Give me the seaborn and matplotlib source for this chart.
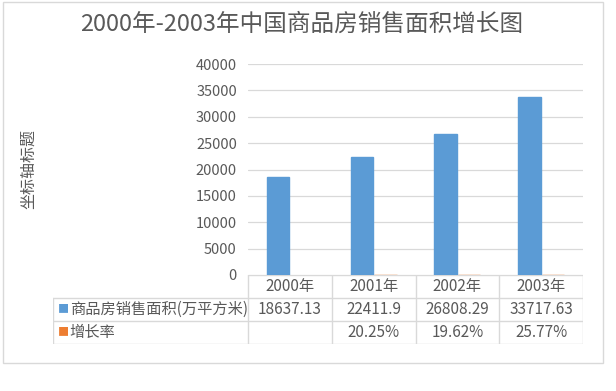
import pandas as pd
import numpy as np
import matplotlib
matplotlib.use("Agg")
import matplotlib.pyplot as plt
from matplotlib.patches import Rectangle
import seaborn as sns

# Data
years = ['2000年', '2001年', '2002年', '2003年']
area = [18637.13, 22411.9, 26808.29, 33717.63]
growth = [np.nan, 0.2025, 0.1962, 0.2577]
series_names = ['商品房销售面积(万平方米)', '增长率']
colors = ['#5B9BD5', '#ED7D31']

area_labels = [str(v) for v in area]
growth_labels = ['' if np.isnan(g) else f"{g:.2%}" for g in growth]

df = pd.DataFrame({
    'year': years * 2,
    'value': area + growth,
    'series': [series_names[0]] * 4 + [series_names[1]] * 4,
})

sns.set_style('white')
plt.rcParams['font.family'] = ['Noto Sans CJK SC', 'DejaVu Sans']
text_col = '#595959'
grid_col = '#D9D9D9'

W, H = 616, 391
fig = plt.figure(figsize=(W / 100, H / 100), dpi=100)

# plot area in pixel terms
px_l, px_r, px_t, px_b = 248, 583, 64, 275
ax = fig.add_axes([px_l / W, 1 - px_b / H, (px_r - px_l) / W, (px_b - px_t) / H])

sns.barplot(data=df, x='year', y='value', hue='series', palette=colors,
            width=0.56, gap=0.04, legend=False, ax=ax, saturation=1)
for p in ax.patches:
    p.set_edgecolor(p.get_facecolor())
    p.set_linewidth(1.0)

ax.set_xlim(-0.5, len(years) - 0.5)
ax.set_ylim(0, 40000)
ax.set_yticks(range(0, 40001, 5000))
ax.tick_params(axis='y', length=0, labelsize=10.5, labelcolor=text_col, pad=8)
ax.set_xticks([])
ax.set_xlabel('')
ax.set_ylabel('')
ax.grid(axis='y', color=grid_col, linewidth=0.9)
ax.set_axisbelow(True)
for s in ax.spines.values():
    s.set_visible(False)

# data table below the plot
row_h = 23
tb_t, tb_b = 275, 275 + 3 * row_h
tb_l = 53
tab = fig.add_axes([tb_l / W, 1 - tb_b / H, (px_r - tb_l) / W, (tb_b - tb_t) / H])
unit = (px_r - px_l) / len(years)
label_w = (px_l - tb_l) / unit
tab.set_xlim(-0.5 - label_w, len(years) - 0.5)
tab.set_ylim(3, 0)
tab.axis('off')

lw = 1.0
x0 = -0.5 - label_w
x1 = -0.5
x2 = len(years) - 0.5
tab.plot([x1, x2], [0, 0], color=grid_col, lw=lw)
for yy in [1, 2, 3]:
    tab.plot([x0, x2], [yy, yy], color=grid_col, lw=lw)
tab.plot([x0, x0], [1, 3], color=grid_col, lw=lw)
for k in range(len(years) + 1):
    tab.plot([k - 0.5, k - 0.5], [0, 3], color=grid_col, lw=lw)

fs = 11
for i, y in enumerate(years):
    tab.text(i, 0.5, y, ha='center', va='center', fontsize=fs, color=text_col)
    tab.text(i, 1.5, area_labels[i], ha='center', va='center', fontsize=fs, color=text_col)
    tab.text(i, 2.5, growth_labels[i], ha='center', va='center', fontsize=fs, color=text_col)

for r, (name, c) in enumerate(zip(series_names, colors)):
    tab.text(x0 + 0.06, r + 1.5, '■', ha='left', va='center', fontsize=8, color=c)
    tab.text(x0 + 0.2, r + 1.5, name, ha='left', va='center', fontsize=fs, color=text_col)

# title and axis title
fig.text(302 / W, 1 - 24 / H, '2000年-2003年中国商品房销售面积增长图',
         ha='center', va='center', fontsize=17, color=text_col)
fig.text(29 / W, 1 - 169 / H, '坐标轴标题', ha='center', va='center',
         rotation=90, fontsize=11.5, color=text_col)

# chart frame
fig.patches.append(Rectangle((3 / W, 1 - 363 / H), 600 / W, 361 / H,
                             transform=fig.transFigure, fill=False,
                             edgecolor=grid_col, lw=1.0))

fig.savefig('out.png', dpi=100)
